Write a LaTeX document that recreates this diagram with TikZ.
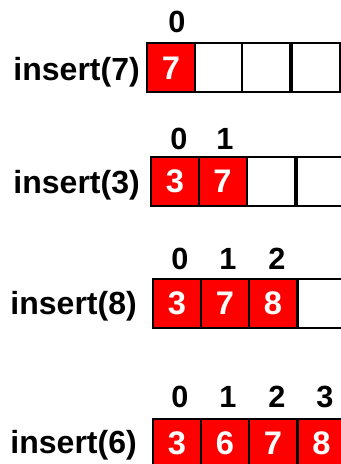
\documentclass[tikz,border=0pt]{standalone}
\usepackage{fontspec}
\setmainfont{Liberation Sans}
\definecolor{cellred}{HTML}{FF0000}
\begin{document}
\begin{tikzpicture}[x=0.75pt,y=-0.75pt,
  cell/.style={draw=black,line width=1.5pt,minimum width=36pt,minimum height=36.75pt,inner sep=0pt,font=\fontsize{24.5}{29}\selectfont\bfseries,text=white},
  full/.style={cell,fill=cellred},
  empty/.style={cell,fill=white},
  idx/.style={anchor=base,inner sep=0pt,font=\fontsize{23}{27}\selectfont\bfseries},
  op/.style={anchor=base east,inner sep=0pt,font=\fontsize{24}{29}\selectfont\bfseries}]
\useasboundingbox (0,0) rectangle (341,464);
% row 1
\node[op] (op1) at (140,80) {insert(7)};
\node[full]  (a1) at (171,67.8) {7};
\node[empty] (a2) at (219,67.8) {};
\node[empty] (a3) at (266,67.8) {};
\node[empty] (a4) at (315.5,67.8) {};
\node[idx] (ia1) at (177,32) {0};
% row 2
\node[op] (op2) at (140,193) {insert(3)};
\node[full]  (b1) at (175,181.5) {3};
\node[full]  (b2) at (222.5,181.5) {7};
\node[empty] (b3) at (271,181.5) {};
\node[empty] (b4) at (321,181.5) {};
\node[idx] (ib1) at (179,149) {0};
\node[idx] (ib2) at (225,149) {1};
% row 3
\node[op] (op3) at (137,314) {insert(8)};
\node[full]  (c1) at (177,303.5) {3};
\node[full]  (c2) at (225,303.5) {7};
\node[full]  (c3) at (273,303.5) {8};
\node[empty] (c4) at (321.5,303.5) {};
\node[idx] (ic1) at (180,269) {0};
\node[idx] (ic2) at (228,269) {1};
\node[idx] (ic3) at (277,269) {2};
% row 4
\node[op] (op4) at (137,453) {insert(6)};
\node[full] (d1) at (177,443.5) {3};
\node[full] (d2) at (225,443.5) {6};
\node[full] (d3) at (273,443.5) {7};
\node[full] (d4) at (321.5,443.5) {8};
\node[idx] (id1) at (180,407) {0};
\node[idx] (id2) at (228,407) {1};
\node[idx] (id3) at (277,407) {2};
\node[idx] (id4) at (325,407) {3};
\end{tikzpicture}
\end{document}
